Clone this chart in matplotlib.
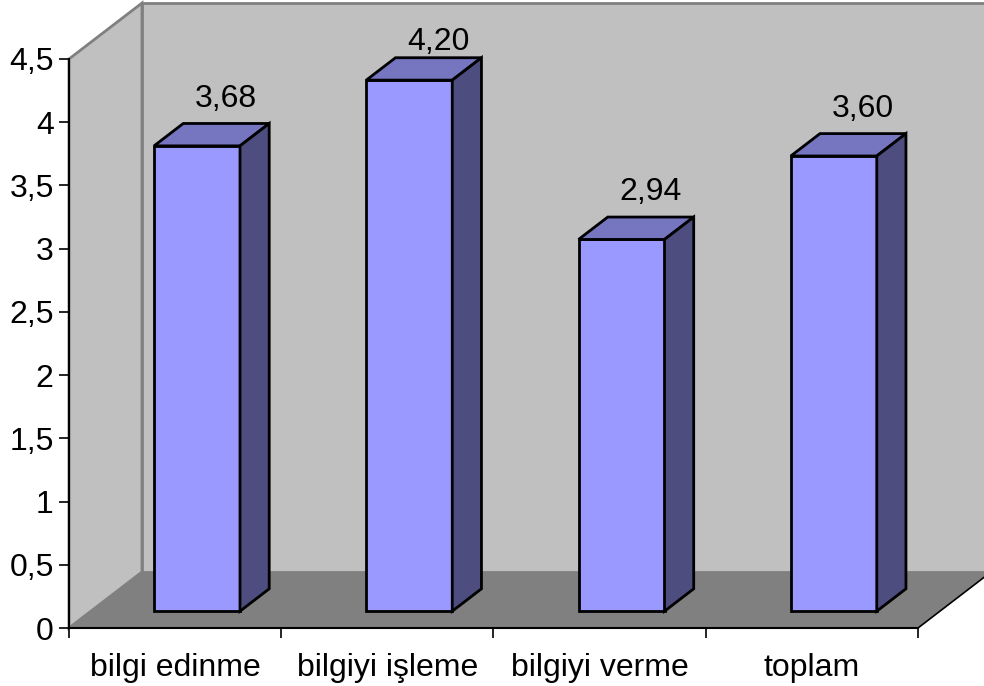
import matplotlib
matplotlib.use("Agg")
import matplotlib.pyplot as plt
from matplotlib.patches import Polygon

plt.rcParams['font.family'] = ['Liberation Sans', 'DejaVu Sans']

categories = ['bilgi edinme', 'bilgiyi işleme', 'bilgiyi verme', 'toplam']
values = [3.68, 4.20, 2.94, 3.60]
labels = ['3,68', '4,20', '2,94', '3,60']
yticks = [0, 0.5, 1, 1.5, 2, 2.5, 3, 3.5, 4, 4.5]
yticklabels = ['0', '0,5', '1', '1,5', '2', '2,5', '3', '3,5', '4', '4,5']

W, H = 984, 686
fig = plt.figure(figsize=(W / 100, H / 100), dpi=100)
# front plane of the 3d box
ax = fig.add_axes([69 / W, 58 / H, 849 / W, 569 / H])
n = len(categories)
ymax = 4.5
ax.set_xlim(0, n)
ax.set_ylim(0, ymax)
ax.patch.set_visible(False)

# depth offsets (data units)
DX = 73 / 849 * n
DY = 56 / 569 * ymax

wall = '#c0c0c0'
floor = '#808080'
edge = '#808080'

# left wall
ax.add_patch(Polygon([(0, 0), (0, ymax), (DX, ymax + DY), (DX, DY)],
                     closed=True, fc=wall, ec=edge, lw=2, clip_on=False, zorder=0))
# back wall
ax.add_patch(Polygon([(DX, DY), (n + DX, DY), (n + DX, ymax + DY), (DX, ymax + DY)],
                     closed=True, fc=wall, ec=edge, lw=2, clip_on=False, zorder=0))
# floor
ax.add_patch(Polygon([(0, 0), (n, 0), (n + DX, DY), (DX, DY)],
                     closed=True, fc=floor, ec='none', clip_on=False, zorder=1))
ax.plot([n, n + DX], [0, DY], color='black', lw=1.2, clip_on=False, zorder=1)

# bars
w = 0.405
d0, d1 = 0.3, 0.4
front_c, top_c, side_c = '#9999ff', '#7575c0', '#4d4d80'
lab_off = 0.134          # label gap above bar top (data units)
lab_cap = ymax + 0.07    # labels are kept inside the plot area
for i, (v, lab) in enumerate(zip(values, labels)):
    fx = i + (1 - w) / 2 + d0 * DX
    fy = d0 * DY
    bx, by = d1 * DX, d1 * DY
    kw = dict(closed=True, ec='black', lw=2, clip_on=False, zorder=3, joinstyle='miter')
    ax.add_patch(Polygon([(fx, fy), (fx + w, fy), (fx + w, fy + v), (fx, fy + v)], fc=front_c, **kw))
    ax.add_patch(Polygon([(fx, fy + v), (fx + w, fy + v), (fx + w + bx, fy + v + by), (fx + bx, fy + v + by)],
                         fc=top_c, **kw))
    ax.add_patch(Polygon([(fx + w, fy), (fx + w + bx, fy + by), (fx + w + bx, fy + v + by), (fx + w, fy + v)],
                         fc=side_c, **kw))
    ly = min(fy + v + by + lab_off, lab_cap)
    ax.text(fx + w / 2 + bx, ly, lab, ha='center', va='baseline', fontsize=23, zorder=4, clip_on=False)

for s in ['top', 'right']:
    ax.spines[s].set_visible(False)
for s in ['left', 'bottom']:
    ax.spines[s].set_color('black')
    ax.spines[s].set_linewidth(1.5)
    ax.spines[s].set_zorder(2)

ax.set_yticks(yticks)
ax.set_yticklabels(yticklabels)
ax.set_xticks(range(n + 1))
ax.set_xticklabels([])
ax.set_xticks([i + 0.5 for i in range(n)], minor=True)
ax.set_xticklabels(categories, minor=True)
ax.tick_params(axis='y', which='major', length=7, width=1.2, pad=4, labelsize=23)
ax.tick_params(axis='x', which='major', length=7, width=1.2)
ax.tick_params(axis='x', which='minor', length=0, pad=18, labelsize=23)

fig.savefig('out.png', dpi=100)
